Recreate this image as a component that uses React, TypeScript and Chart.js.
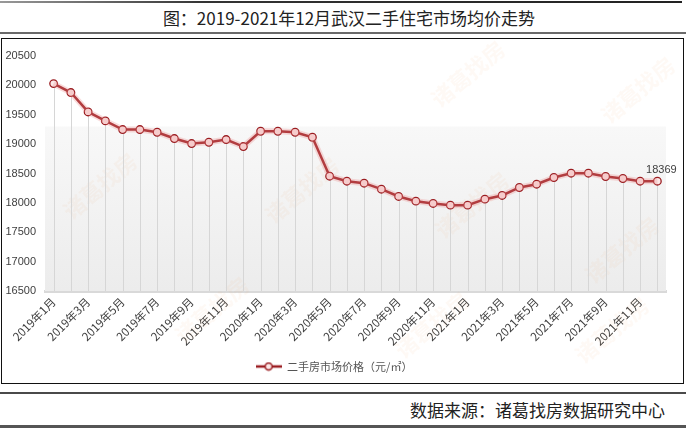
import React, { useEffect, useRef } from "react";
import { Chart, registerables } from "chart.js";

Chart.register(...registerables);

const TITLE = "图：2019-2021年12月武汉二手住宅市场均价走势";
const SOURCE = "数据来源：诸葛找房数据研究中心";
const SERIES_NAME = "二手房市场价格（元/㎡）";
const WATERMARK = "诸葛找房";

const months = [
  "2019年1月", "2019年2月", "2019年3月", "2019年4月", "2019年5月", "2019年6月",
  "2019年7月", "2019年8月", "2019年9月", "2019年10月", "2019年11月", "2019年12月",
  "2020年1月", "2020年2月", "2020年3月", "2020年4月", "2020年5月", "2020年6月",
  "2020年7月", "2020年8月", "2020年9月", "2020年10月", "2020年11月", "2020年12月",
  "2021年1月", "2021年2月", "2021年3月", "2021年4月", "2021年5月", "2021年6月",
  "2021年7月", "2021年8月", "2021年9月", "2021年10月", "2021年11月", "2021年12月",
];

const prices = [
  20030, 19878, 19548, 19395, 19248, 19248, 19202, 19095, 19010, 19032, 19078, 18959,
  19219, 19219, 19202, 19117, 18454, 18369, 18335, 18233, 18109, 18029, 17990, 17961,
  17961, 18063, 18126, 18262, 18318, 18432, 18505, 18505, 18449, 18415, 18369, 18369,
];

const yTicks = [16500, 17000, 17500, 18000, 18500, 19000, 19500, 20000, 20500];
const labelIndex = 35; // point carrying the value label

const LINE = "#9a1c20";
const POINT_FILL = "#fbe8e8";
const TEXT = "#404040";
const TICK_FONT = "'Liberation Sans', Arial, sans-serif";
const CJK_FONT = "'Noto Sans CJK SC', 'Noto Sans', sans-serif";

// watermark centers in canvas coordinates (canvas sits at page x=2, y=40)
const watermarkSpots = [
  [466, 34], [636, 50], [98, 146], [300, 150], [470, 165], [620, 210], [210, 270], [430, 285], [610, 290],
];

function makeLegendIcon() {
  const c = document.createElement("canvas");
  c.width = 26;
  c.height = 10;
  const ctx = c.getContext("2d")!;
  ctx.strokeStyle = LINE;
  ctx.lineWidth = 2.5;
  ctx.beginPath();
  ctx.moveTo(0, 5);
  ctx.lineTo(26, 5);
  ctx.stroke();
  ctx.beginPath();
  ctx.arc(13, 5, 3.5, 0, Math.PI * 2);
  ctx.fillStyle = POINT_FILL;
  ctx.fill();
  ctx.lineWidth = 1.5;
  ctx.stroke();
  return c;
}

export default function App() {
  const ref = useRef<HTMLCanvasElement>(null);

  useEffect(() => {
    const canvas = ref.current;
    if (!canvas) return;
    const icon = makeLegendIcon();

    const decor = {
      id: "decor",
      beforeDatasetsDraw(chart: any) {
        const { ctx, chartArea } = chart;
        const y = chart.scales.y;
        const top = y.getPixelForValue(19300);
        ctx.save();
        const g = ctx.createLinearGradient(0, top, 0, chartArea.bottom);
        g.addColorStop(0, "#f8f8f8");
        g.addColorStop(1, "#ececec");
        ctx.fillStyle = g;
        ctx.fillRect(chartArea.left, top, chartArea.right - chartArea.left, chartArea.bottom - top);
        // watermarks
        ctx.font = `bold 22px ${CJK_FONT}`;
        ctx.fillStyle = "rgba(240, 170, 110, 0.07)";
        ctx.textAlign = "center";
        ctx.textBaseline = "middle";
        watermarkSpots.forEach(([wx, wy]) => {
          ctx.save();
          ctx.translate(wx, wy);
          ctx.rotate(-Math.PI / 4.5);
          ctx.fillText(WATERMARK, 0, 0);
          ctx.restore();
        });
        // drop lines
        const meta = chart.getDatasetMeta(1);
        ctx.strokeStyle = "#d6d6d6";
        ctx.lineWidth = 1;
        meta.data.forEach((p: any) => {
          const x = Math.round(p.x) + 0.5;
          ctx.beginPath();
          ctx.moveTo(x, p.y);
          ctx.lineTo(x, chartArea.bottom);
          ctx.stroke();
        });
        ctx.restore();
      },
      afterDatasetsDraw(chart: any) {
        const { ctx } = chart;
        const p = chart.getDatasetMeta(1).data[labelIndex];
        ctx.save();
        ctx.font = `11px ${TICK_FONT}`;
        ctx.fillStyle = TEXT;
        ctx.textAlign = "center";
        ctx.textBaseline = "middle";
        ctx.fillText(String(prices[labelIndex]), p.x + 4, p.y - 11);
        ctx.restore();
      },
    };

    const chart = new Chart(canvas, {
      type: "line",
      data: {
        labels: months,
        datasets: [
          {
            label: "glow",
            data: prices,
            borderColor: "rgba(235, 140, 140, 0.3)",
            borderWidth: 6,
            pointRadius: 0,
            tension: 0,
          },
          {
            label: SERIES_NAME,
            data: prices,
            borderColor: LINE,
            borderWidth: 2.5,
            pointRadius: 3.8,
            pointBorderWidth: 1.3,
            pointBackgroundColor: POINT_FILL,
            pointBorderColor: LINE,
            tension: 0,
          },
        ],
      },
      options: {
        animation: false,
        responsive: false,
        maintainAspectRatio: false,
        layout: { padding: { top: 16, right: 16, left: 0, bottom: 0 } },
        plugins: {
          tooltip: { enabled: false },
          legend: {
            position: "bottom",
            labels: {
              usePointStyle: true,
              pointStyleWidth: 26,
              padding: 10,
              color: "#555",
              font: { size: 11, family: CJK_FONT },
              filter: (item: any) => item.datasetIndex === 1,
              generateLabels: (ch: any) => {
                const items = Chart.defaults.plugins.legend.labels.generateLabels(ch);
                return items.map((it: any) => ({ ...it, pointStyle: icon, lineWidth: 0 }));
              },
            },
          },
        },
        scales: {
          x: {
            offset: true,
            grid: { display: false, drawTicks: false },
            border: { display: true, color: "#d9d9d9", width: 3 },
            afterFit: (s: any) => {
              s.height = 60;
            },
            ticks: {
              autoSkip: false,
              maxRotation: 45,
              minRotation: 45,
              padding: 4,
              color: TEXT,
              font: { size: 11.5, family: CJK_FONT },
              callback: (_v: any, i: number) => (i % 2 === 0 ? months[i] : ""),
            },
          },
          y: {
            min: yTicks[0],
            max: yTicks[yTicks.length - 1],
            grid: { display: false, drawTicks: false },
            border: { display: false },
            afterFit: (s: any) => {
              s.width = 43;
            },
            afterBuildTicks: (s: any) => {
              s.ticks = yTicks.map((v) => ({ value: v }));
            },
            ticks: {
              padding: 9,
              color: TEXT,
              font: { size: 11, family: TICK_FONT },
              callback: (v: any) => String(v),
            },
          },
        },
      },
      plugins: [decor],
    });
    return () => chart.destroy();
  }, []);

  const line = (top: number, width: number, h: number, bg: string): React.CSSProperties => ({
    position: "absolute",
    left: 0,
    top,
    width,
    height: h,
    background: bg,
  });

  return (
    <div style={{ position: "absolute", left: 0, top: 0, width: 698, height: 430, background: "#fff", overflow: "hidden" }}>
      <div style={line(1, 682, 2, "linear-gradient(to right, #999 0%, #333 30%, #222 100%)")} />
      <div
        style={{
          position: "absolute",
          left: 0,
          top: 6,
          width: 698,
          textAlign: "center",
          fontFamily: CJK_FONT,
          fontSize: 17,
          lineHeight: "24px",
          color: "#222",
        }}
      >
        {TITLE}
      </div>
      <div style={line(32, 686, 2, "#6a6a6a")} />
      <div
        style={{
          position: "absolute",
          left: 1,
          top: 38,
          width: 683,
          height: 346,
          border: "1.5px solid #111",
          boxSizing: "border-box",
        }}
      />
      <canvas
        ref={ref}
        width={680}
        height={342}
        style={{ position: "absolute", left: 2, top: 40, width: 680, height: 342 }}
      />
      <div style={line(392, 686, 2, "#4a4a4a")} />
      <div
        style={{
          position: "absolute",
          right: 33,
          top: 398,
          fontFamily: CJK_FONT,
          fontSize: 17,
          lineHeight: "24px",
          color: "#222",
          whiteSpace: "nowrap",
        }}
      >
        {SOURCE}
      </div>
      <div style={line(425, 686, 3, "#555")} />
    </div>
  );
}
